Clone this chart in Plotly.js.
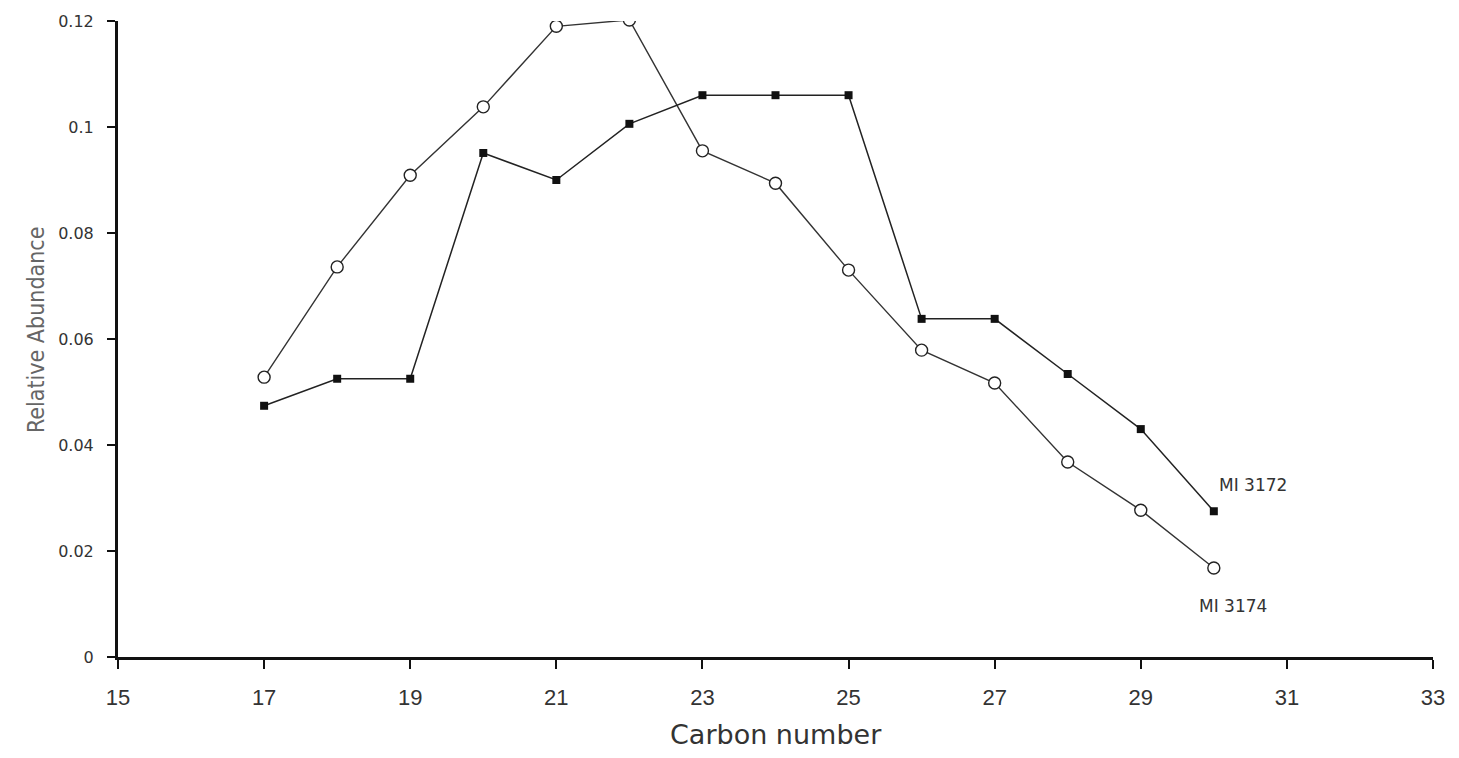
<!DOCTYPE html>
<html>
<head>
<meta charset="utf-8">
<script src="https://cdn.plot.ly/plotly-3.0.1.min.js"></script>
<style>html,body{margin:0;padding:0;background:#fff;}#chart{width:1459px;height:758px;}</style>
</head>
<body>
<div id="chart"></div>
<script>
const carbon = [17, 18, 19, 20, 21, 22, 23, 24, 25, 26, 27, 28, 29, 30];
const mi3174 = [0.0528, 0.0736, 0.0909, 0.1038, 0.1190, 0.1202, 0.0955, 0.0894, 0.0730, 0.0579, 0.0517, 0.0368, 0.0277, 0.0168];
const mi3172 = [0.0474, 0.0525, 0.0525, 0.0951, 0.0900, 0.1006, 0.1060, 0.1060, 0.1060, 0.0638, 0.0638, 0.0534, 0.0430, 0.0275];
const xTicks = [15, 17, 19, 21, 23, 25, 27, 29, 31, 33];
const yTicks = [0, 0.02, 0.04, 0.06, 0.08, 0.1, 0.12];
const yTickText = ['0', '0.02', '0.04', '0.06', '0.08', '0.1', '0.12'];
const seriesLabels = [
  {text: 'MI 3172', x: 30.53, y: 0.0325},
  {text: 'MI 3174', x: 30.26, y: 0.0096}
];
const xTitle = 'Carbon number';
const yTitle = 'Relative Abundance';

const traces = [
  {
    x: carbon, y: mi3174, mode: 'lines+markers', name: 'MI 3174',
    line: {color: '#333', width: 1.4},
    marker: {symbol: 'circle', size: 12, color: '#fff', line: {color: '#222', width: 1.4}}
  },
  {
    x: carbon, y: mi3172, mode: 'lines+markers', name: 'MI 3172',
    line: {color: '#222', width: 1.5},
    marker: {symbol: 'square', size: 8, color: '#111', line: {color: '#111', width: 0}}
  }
];

const annotations = seriesLabels.map(l => ({
  text: l.text, x: l.x, y: l.y, xref: 'x', yref: 'y', showarrow: false,
  font: {size: 17, color: '#333', family: 'DejaVu Sans, sans-serif'}
}));
annotations.push({
  text: xTitle, xref: 'paper', yref: 'paper', x: 0.5, y: -0.1226,
  xanchor: 'center', yanchor: 'middle', showarrow: false,
  font: {size: 27, color: '#333', family: 'DejaVu Sans, sans-serif'}
});
annotations.push({
  text: yTitle, xref: 'paper', yref: 'paper', x: -0.0624, y: 0.514,
  xanchor: 'center', yanchor: 'middle', showarrow: false, textangle: -90,
  font: {size: 23, color: '#666', family: 'DejaVu Sans Condensed, Liberation Sans Narrow, sans-serif'}
});

const layout = {
  width: 1459, height: 758,
  margin: {l: 118, r: 26, t: 21, b: 101},
  paper_bgcolor: '#fff', plot_bgcolor: '#fff',
  showlegend: false,
  font: {family: 'Liberation Sans, Arial, sans-serif', color: '#222'},
  xaxis: {
    range: [15, 33], tickvals: xTicks, ticktext: xTicks.map(String),
    showgrid: false, zeroline: false,
    showline: true, linecolor: '#111', linewidth: 3,
    ticks: 'outside', ticklen: 9, tickwidth: 2, tickcolor: '#111',
    tickfont: {size: 22, color: '#333', family: 'Liberation Sans Narrow, Liberation Sans, sans-serif'},
    ticklabelstandoff: 10
  },
  yaxis: {
    range: [0, 0.12], tickvals: yTicks, ticktext: yTickText,
    showgrid: false, zeroline: false,
    showline: true, linecolor: '#111', linewidth: 3,
    ticks: 'outside', ticklen: 8, tickwidth: 2, tickcolor: '#111',
    tickfont: {size: 16, color: '#333', family: 'DejaVu Sans, sans-serif'},
    ticklabelstandoff: 10
  },
  annotations: annotations
};

Plotly.newPlot('chart', traces, layout, {displayModeBar: false, staticPlot: true});
</script>
</body>
</html>
